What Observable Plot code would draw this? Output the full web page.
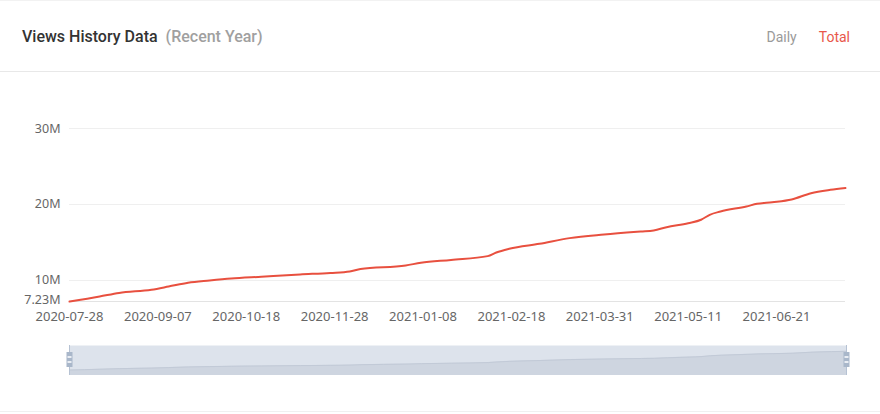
<!DOCTYPE html>
<html>
<head>
<meta charset="utf-8">
<script src="https://cdn.jsdelivr.net/npm/d3@7"></script>
<script src="https://cdn.jsdelivr.net/npm/@observablehq/plot@0.6"></script>
<style>
  html, body { margin: 0; padding: 0; background: #fff; }
  #wrap { position: relative; width: 880px; height: 414px; overflow: hidden; font-family: "Noto Sans", sans-serif; }
  #topline { position: absolute; left: 0; top: 0; width: 880px; height: 1px; background: #f2f2f2; }
  #header { position: absolute; left: 0; top: 0; width: 880px; height: 71px; border-bottom: 1px solid #e8e8e8; }
  #title { position: absolute; left: 22px; top: 27px; font-family: Roboto, sans-serif; font-size: 16px; font-weight: 500; color: #333; white-space: nowrap; }
  #title .sub { color: #a0a0a0; margin-left: 8px; font-weight: 500; }
  #tabs { position: absolute; right: 30px; top: 29px; font-family: Roboto, sans-serif; font-size: 14px; white-space: nowrap; }
  #tabs .daily { color: #9a9a9a; margin-right: 22px; }
  #tabs .total { color: #e8574a; }
  #main { position: absolute; left: 0; top: 72px; }
  #slider { position: absolute; left: 0; top: 345px; }
  #bottomline { position: absolute; left: 0; top: 411px; width: 880px; height: 1px; background: #f0f0f0; }
</style>
</head>
<body>
<div id="wrap">
  <div id="topline"></div>
  <div id="header">
    <div id="title">Views History Data<span class="sub">(Recent Year)</span></div>
    <div id="tabs"><span class="daily">Daily</span><span class="total">Total</span></div>
  </div>
  <div id="main"></div>
  <div id="slider"></div>
  <div id="bottomline"></div>
</div>
<script>
// Total views (millions)
const dates = [
  "2020-07-28","2020-08-11","2020-08-20","2020-09-04","2020-09-12","2020-09-21",
  "2020-10-01","2020-10-11","2020-10-25","2020-11-12","2020-11-26","2020-12-05",
  "2020-12-10","2020-12-31","2021-01-07","2021-01-21","2021-02-07","2021-02-11",
  "2021-02-17","2021-03-03","2021-03-17","2021-04-02","2021-04-19","2021-04-25",
  "2021-05-01","2021-05-11","2021-05-17","2021-05-21","2021-05-26","2021-06-07",
  "2021-06-12","2021-06-19","2021-06-28","2021-07-07","2021-07-16","2021-07-23"
];
const views = [
  7.23, 7.89, 8.36, 8.78, 9.20, 9.70,
  10.00, 10.26, 10.49, 10.79, 10.99, 11.18,
  11.51, 11.97, 12.33, 12.70, 13.20, 13.68,
  14.17, 14.83, 15.57, 16.05, 16.45, 16.58,
  17.01, 17.54, 17.99, 18.64, 19.08, 19.74,
  20.09, 20.30, 20.66, 21.49, 21.93, 22.17
];
const xTickLabels = ["2020-07-28","2020-09-07","2020-10-18","2020-11-28","2021-01-08","2021-02-18","2021-03-31","2021-05-11","2021-06-21"];
const yTicks = [7.23, 10, 20, 30];
const yMax = 30;

const parse = d3.utcParse("%Y-%m-%d");
const data = dates.map((d, i) => ({date: parse(d), value: views[i]}));
const xTicks = xTickLabels.map(parse);
const xDomain = [data[0].date, data[data.length - 1].date];
const yMin = d3.min(views);
const red = "#e8503f";
const fmtM = d => d + "M";

const main = Plot.plot({
  width: 880,
  height: 270,
  marginLeft: 69,
  marginRight: 35,
  marginTop: 56,
  marginBottom: 41,
  style: {fontFamily: "'Noto Sans', sans-serif", fontSize: "13px", color: "#666", background: "transparent"},
  x: {type: "utc", domain: xDomain, label: null},
  y: {domain: [yMin, yMax], label: null},
  marks: [
    Plot.axisX({ticks: xTicks, tickFormat: d3.utcFormat("%Y-%m-%d"), tickSize: 0, tickPadding: 10, fontSize: 13, label: null}),
    Plot.axisY({ticks: yTicks.filter(t => t !== yMin), tickFormat: fmtM, tickSize: 0, tickPadding: 9, fontSize: 12.5, label: null}),
    Plot.axisY({ticks: [yMin], tickFormat: fmtM, tickSize: 0, tickPadding: 9, fontSize: 12.5, dy: -2, label: null}),
    Plot.ruleY(yTicks.filter(t => t !== yMin), {stroke: "#efefef", strokeWidth: 1}),
    Plot.ruleY([yMin], {stroke: "#e3e3e3", strokeWidth: 1}),
    Plot.lineY(data, {x: "date", y: "value", stroke: red, strokeWidth: 2, curve: "monotone-x"})
  ]
});
document.getElementById("main").appendChild(main);

const slider = Plot.plot({
  width: 880,
  height: 30,
  marginLeft: 69,
  marginRight: 34,
  marginTop: 0,
  marginBottom: 0,
  style: {background: "transparent"},
  x: {type: "utc", domain: xDomain, axis: null},
  y: {domain: [2.9, 26.8], axis: null},
  marks: [
    Plot.frame({fill: "#dde3ec", stroke: null}),
    Plot.areaY(data, {x: "date", y: "value", fill: "#ced5e0", clip: true, curve: "monotone-x"}),
    Plot.lineY(data, {x: "date", y: "value", stroke: "#c2cad7", strokeWidth: 1, curve: "monotone-x"}),
    Plot.ruleX(xDomain, {stroke: "#b6c2d3", strokeWidth: 1}),
    Plot.ruleX(xDomain, {stroke: "#a9b7ca", strokeWidth: 6, insetTop: 7, insetBottom: 8}),
    Plot.ruleX(xDomain, {stroke: "#e9edf3", strokeWidth: 4, insetTop: 11, insetBottom: 12, strokeDasharray: "2,3"})
  ]
});
document.getElementById("slider").appendChild(slider);
</script>
</body>
</html>
